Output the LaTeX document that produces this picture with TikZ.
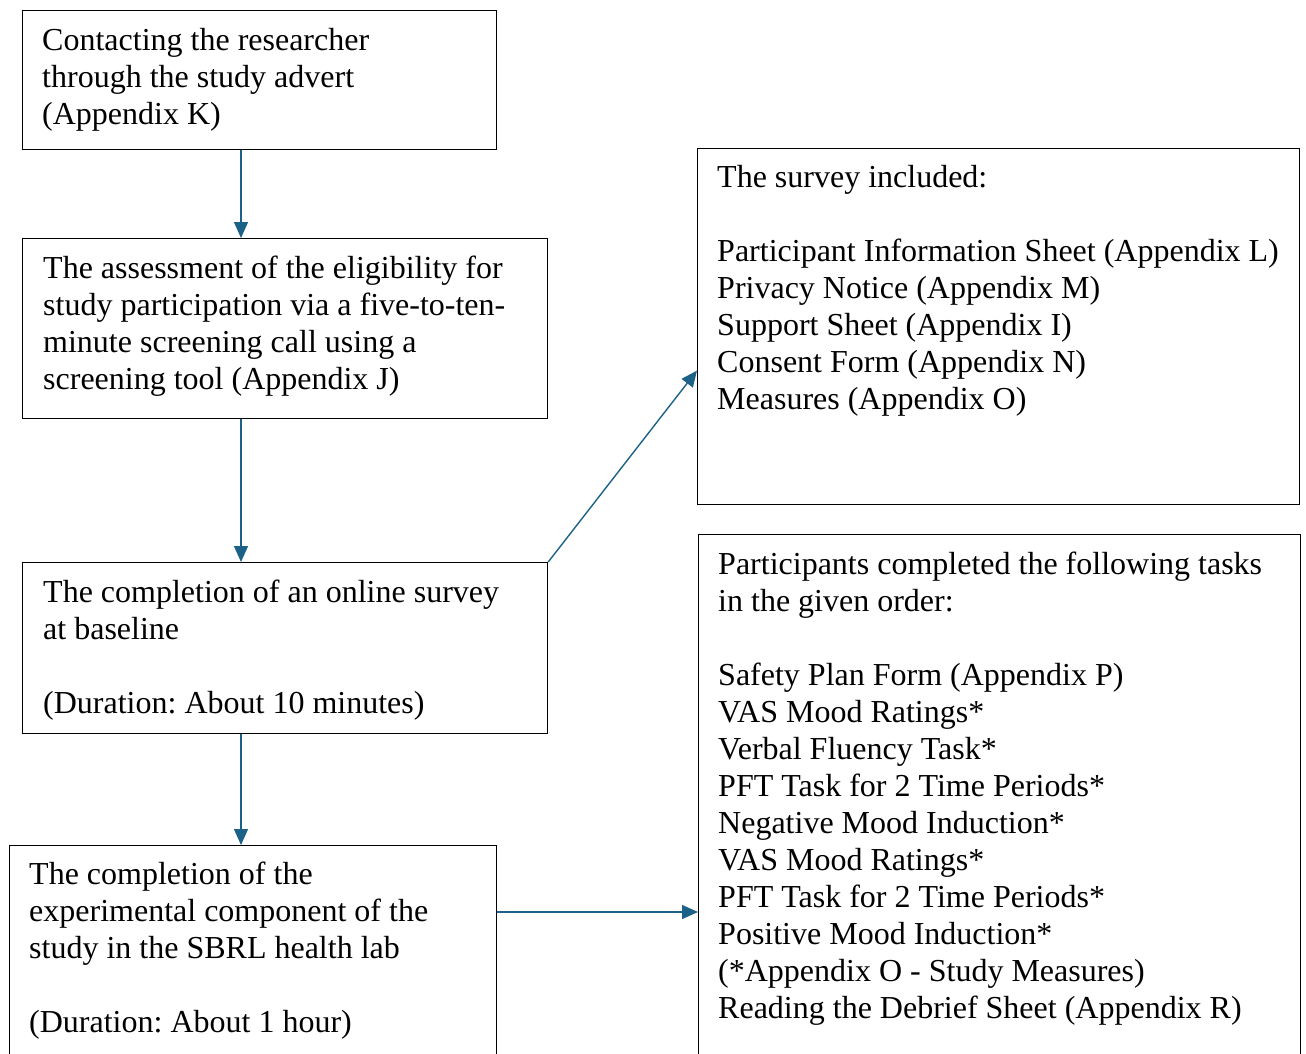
\documentclass[tikz,border=0pt]{standalone}
\usepackage{fontspec}
\setmainfont{Liberation Serif}
\usetikzlibrary{arrows.meta}
\definecolor{flowblue}{RGB}{28,98,136}
\frenchspacing
\begin{document}
\begin{tikzpicture}[x=1pt,y=-1pt,
  box/.style={draw=black, line width=1.2pt, rectangle, inner sep=0pt, anchor=north west},
  txt/.style={anchor=north west, inner sep=0pt, align=left,
    font=\fontsize{32}{37}\selectfont},
  arr/.style={draw=flowblue, line width=1.4pt, -{Triangle[length=16pt,width=14pt]}}]
\useasboundingbox (0,0) rectangle (1306,1053);

% boxes
\node[box, minimum width=474pt, minimum height=139pt] (b1) at (22,10) {};
\node[box, minimum width=525pt, minimum height=180pt] (b2) at (22,238) {};
\node[box, minimum width=525pt, minimum height=171pt] (b3) at (22,562) {};
\node[box, minimum width=487pt, minimum height=240pt] (b4) at (9,845) {};
\node[box, minimum width=602pt, minimum height=356pt] (b5) at (697,148) {};
\node[box, minimum width=602pt, minimum height=550pt] (b6) at (698,534) {};

% texts
\node[txt] (t1) at ([xshift=20pt,yshift=-18pt]b1.north west)
  {Contacting the researcher\\through the study advert\\(Appendix K)};
\node[txt] (t2) at ([xshift=21pt,yshift=-18pt]b2.north west)
  {The assessment of the eligibility for\\study participation via a five-to-ten-\\minute screening call using a\\screening tool (Appendix J)};
\node[txt] (t3) at ([xshift=21pt,yshift=-18pt]b3.north west)
  {The completion of an online survey\\at baseline\\[37pt](Duration: About 10 minutes)};
\node[txt] (t4) at ([xshift=20pt,yshift=-17pt]b4.north west)
  {The completion of the\\experimental component of the\\study in the SBRL health lab\\[37pt](Duration: About 1 hour)};
\node[txt] (t5) at ([xshift=20pt,yshift=-17pt]b5.north west)
  {The survey included:\\[37pt]Participant Information Sheet (Appendix L)\\Privacy Notice (Appendix M)\\Support Sheet (Appendix I)\\Consent Form (Appendix N)\\Measures (Appendix O)};
\node[txt] (t6) at ([xshift=20pt,yshift=-18pt]b6.north west)
  {Participants completed the following tasks\\in the given order:\\[37pt]Safety Plan Form (Appendix P)\\VAS Mood Ratings*\\Verbal Fluency Task*\\PFT Task for 2 Time Periods*\\Negative Mood Induction*\\VAS Mood Ratings*\\PFT Task for 2 Time Periods*\\Positive Mood Induction*\\(*Appendix O - Study Measures)\\Reading the Debrief Sheet (Appendix R)};

% connectors
\coordinate (col) at (241,0);
\coordinate (row) at (0,912);
\draw[arr] (b1.south -| col) -- (b2.north -| col);
\draw[arr] (b2.south -| col) -- (b3.north -| col);
\draw[arr] (b3.south -| col) -- (b4.north -| col);
\draw[arr] (b3.north east) -- ([yshift=-44pt]b5.west);
\draw[arr] (b4.east |- row) -- (b6.west |- row);
\end{tikzpicture}
\end{document}
